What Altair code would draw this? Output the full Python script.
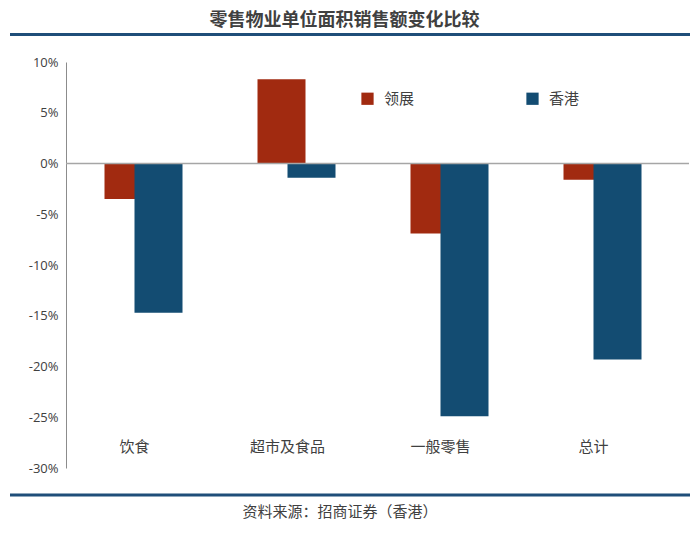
import altair as alt
import pandas as pd

categories = ["饮食", "超市及食品", "一般零售", "总计"]
series = ["领展", "香港"]
link_values = [-0.035, 0.083, -0.069, -0.016]
hk_values = [-0.147, -0.014, -0.249, -0.193]
y_ticks = [0.10, 0.05, 0.0, -0.05, -0.10, -0.15, -0.20, -0.25, -0.30]

title_text = "零售物业单位面积销售额变化比较"
source_text = "资料来源：招商证券（香港）"

rows = []
for c, v in zip(categories, link_values):
    rows.append({"cat": c, "series": series[0], "value": v})
for c, v in zip(categories, hk_values):
    rows.append({"cat": c, "series": series[1], "value": v})
df = pd.DataFrame(rows)

RED = "#A12A10"
BLUE = "#134C72"
CJK = "Noto Sans CJK SC"
W, H = 612, 406

color = alt.Color(
    "series:N",
    scale=alt.Scale(domain=series, range=[RED, BLUE]),
    legend=alt.Legend(
        title=None, orient="none", legendX=294, legendY=29, direction="horizontal",
        symbolType="square", symbolSize=150, symbolStrokeWidth=0,
        labelFont=CJK, labelFontSize=15, labelColor="#404040",
        columnPadding=110, labelOffset=9, padding=0,
    ),
)

x = alt.X(
    "cat:N", sort=categories,
    scale=alt.Scale(paddingInner=0, paddingOuter=0),
    axis=None,
)
y = alt.Y(
    "value:Q",
    scale=alt.Scale(domain=[-0.30, 0.10], nice=False, zero=False),
    axis=alt.Axis(
        title=None, values=y_ticks, grid=False, ticks=False,
        domainColor="#8c8c8c", domainWidth=1,
        labelFont="Open Sans", labelFontSize=13, labelColor="#404040",
        labelPadding=8,
        labelExpr="round(datum.value*100) + '%'",
    ),
)

base = alt.Chart(df)

red_bars = base.transform_filter(alt.datum.series == series[0]).mark_bar(
    width=48, xOffset=-14
).encode(x=x, y=y, color=color)

blue_bars = base.transform_filter(alt.datum.series == series[1]).mark_bar(
    width=48, xOffset=16
).encode(x=x, y=y, color=color)

cat_labels = alt.Chart(pd.DataFrame({"cat": categories})).mark_text(
    font=CJK, fontSize=15, color="#404040", align="center", baseline="middle", dx=-8
).encode(x=x, text="cat:N", y=alt.value(385))

zero_rule = alt.Chart(pd.DataFrame({"v": [0.0]})).mark_rule(
    color="#a6a6a6", strokeWidth=1.5
).encode(y=alt.Y("v:Q"), x=alt.value(0), x2=alt.value(623))

deco = pd.DataFrame({"t": [title_text]})
title_mark = alt.Chart(deco).mark_text(
    font=CJK, fontSize=18, fontWeight="bold", color="#404040",
    align="center", baseline="middle",
).encode(text="t:N", x=alt.value(278.5), y=alt.value(-41.5))

source_mark = alt.Chart(pd.DataFrame({"t": [source_text]})).mark_text(
    font=CJK, fontSize=15, color="#404040", align="center", baseline="middle",
).encode(text="t:N", x=alt.value(274), y=alt.value(449.5))

top_line = alt.Chart(deco).mark_rule(color="#1F4E79", strokeWidth=3).encode(
    x=alt.value(-56), x2=alt.value(624), y=alt.value(-27.5)
)
bottom_line = alt.Chart(deco).mark_rule(color="#1F4E79", strokeWidth=3).encode(
    x=alt.value(-56), x2=alt.value(624), y=alt.value(433)
)

chart = alt.layer(
    red_bars, blue_bars, zero_rule, cat_labels, title_mark, source_mark, top_line, bottom_line
).properties(
    width=W, height=H,
    autosize=alt.AutoSizeParams(type="none"),
    padding={"left": 58, "top": 54, "right": 14, "bottom": 59},
).configure(background="white", view=alt.ViewConfig(stroke=None))

chart.save("out.html", embed_options={"renderer": "svg", "actions": False})
